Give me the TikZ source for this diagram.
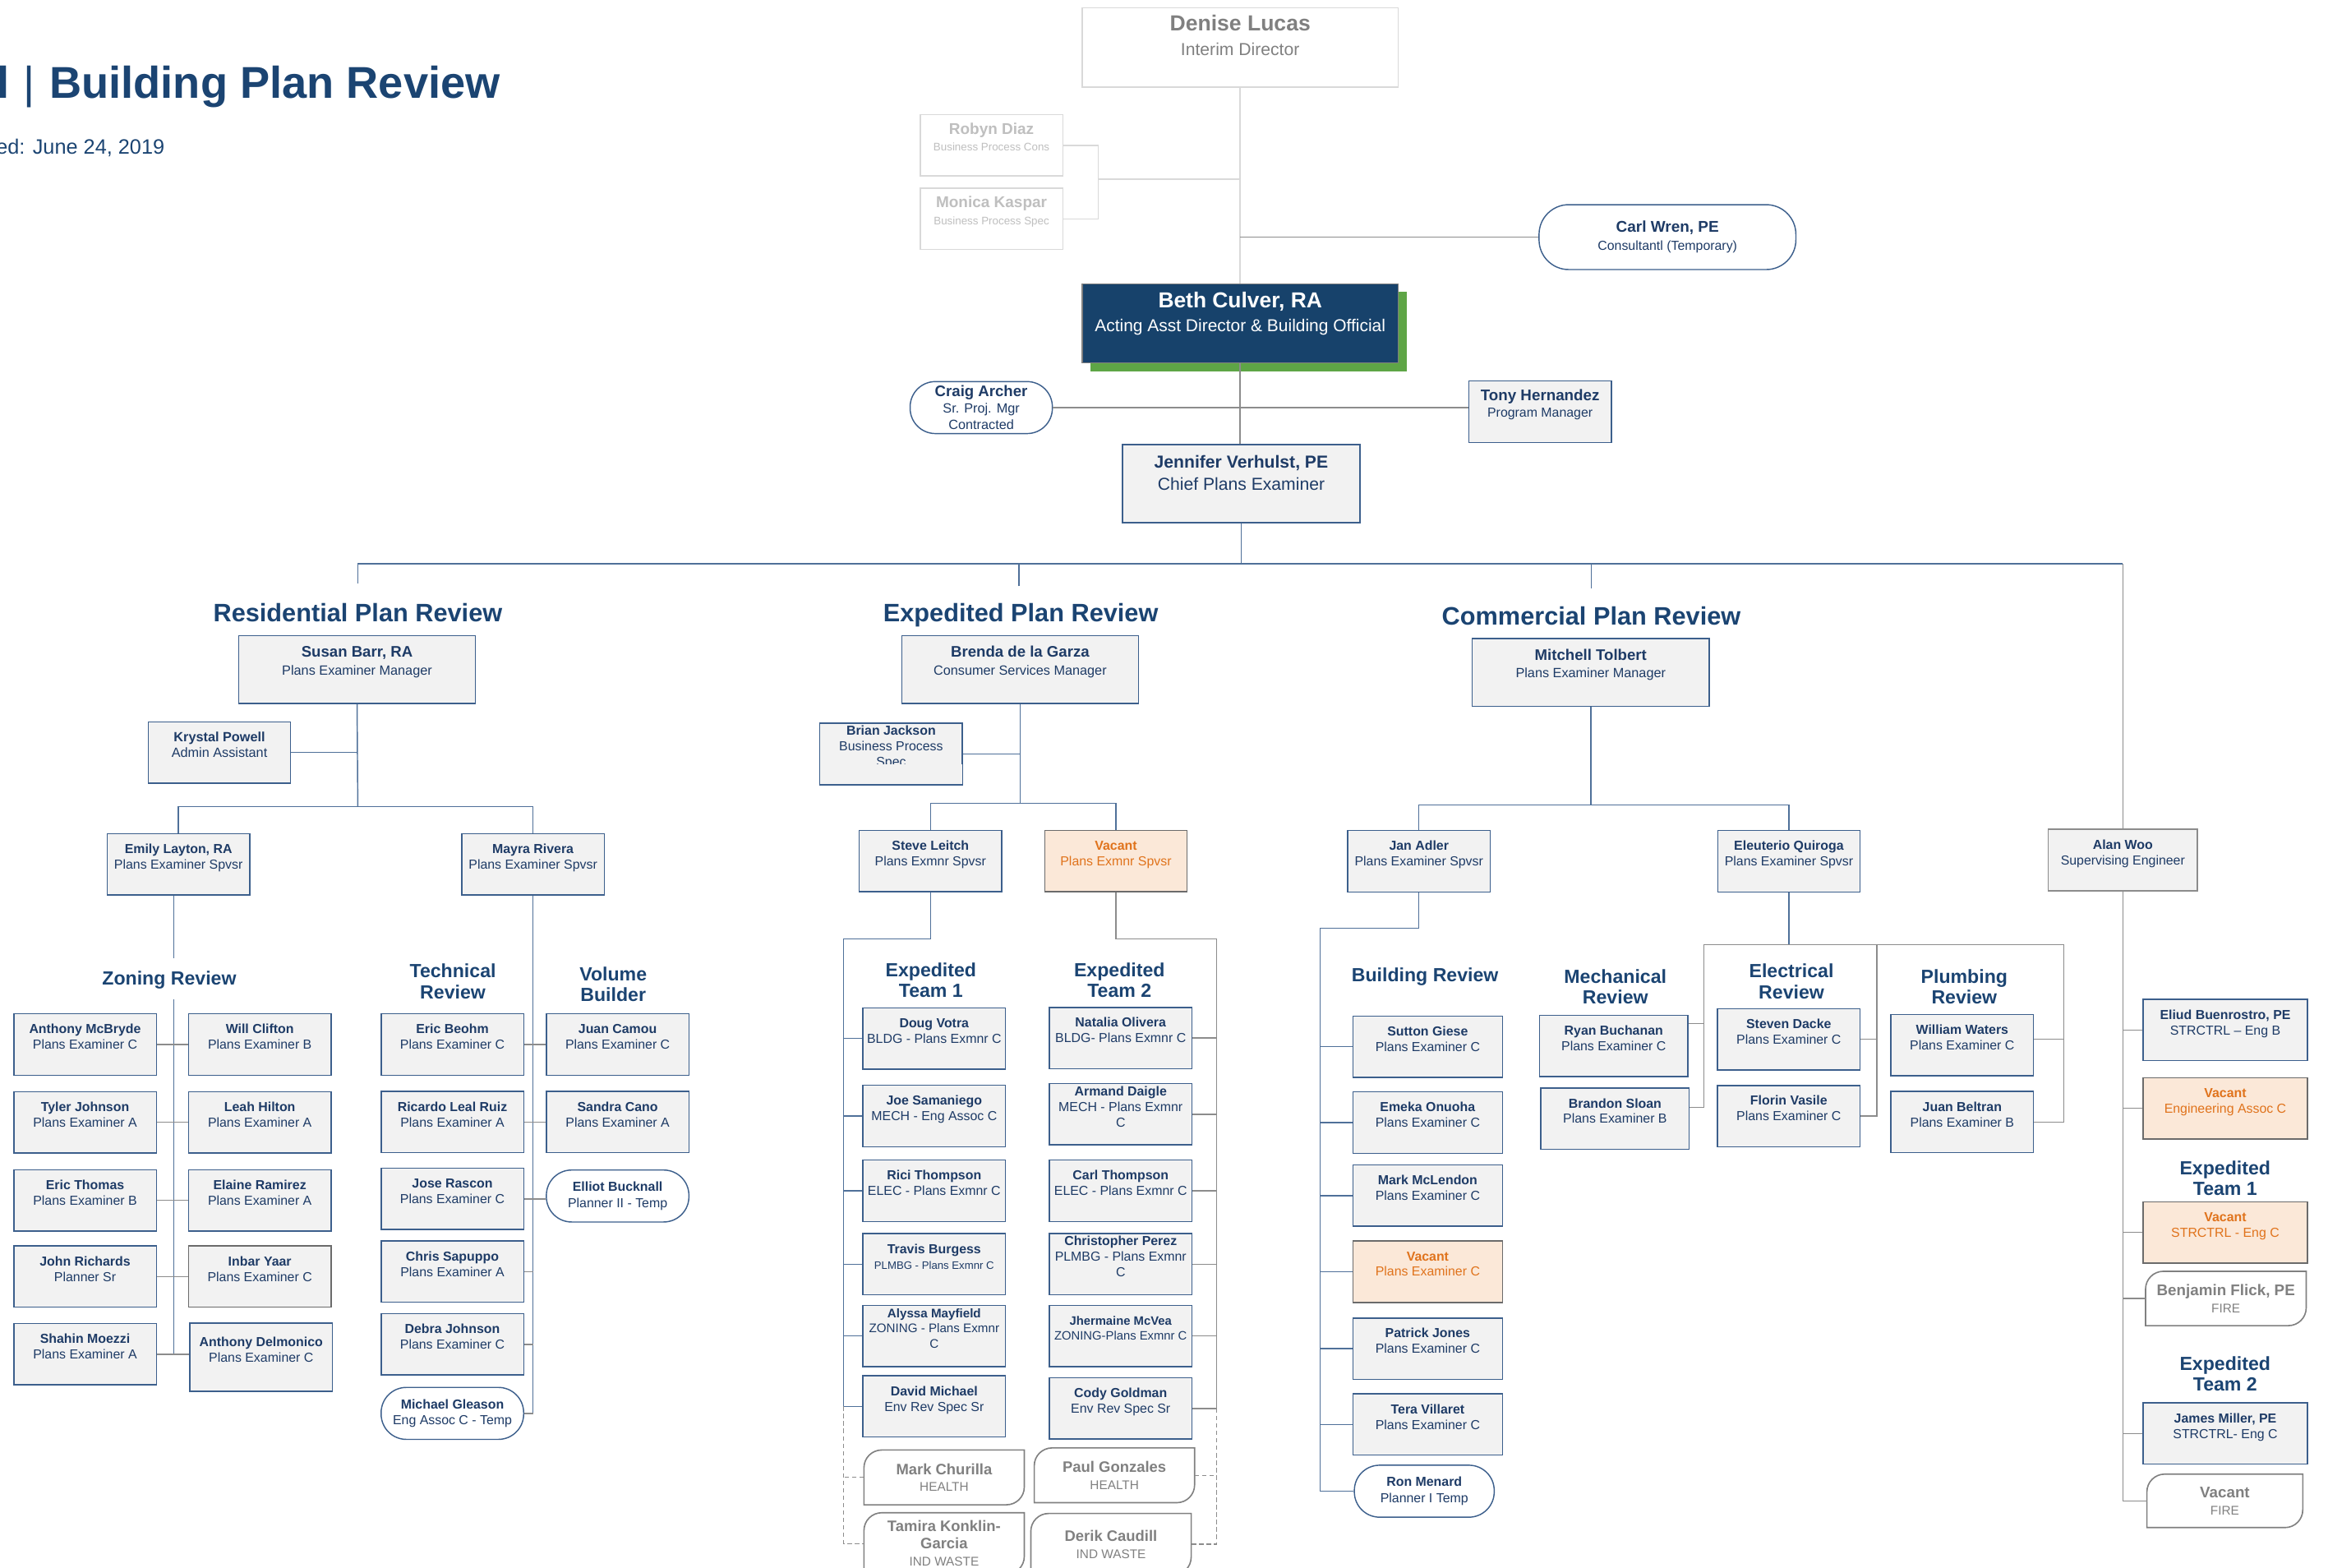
\documentclass[tikz,border=0pt]{standalone}
\usepackage{fontspec}
\setmainfont{Liberation Sans}

\definecolor{headblue}{HTML}{1B4472}
\definecolor{navy}{HTML}{1E3B66}
\definecolor{boxline}{HTML}{3C5F8C}
\definecolor{boxfill}{HTML}{F2F2F2}
\definecolor{connblue}{HTML}{4F7099}
\definecolor{linegray}{HTML}{8C8C8C}
\definecolor{faintline}{HTML}{D9D9D9}
\definecolor{faint}{HTML}{BFBFBF}
\definecolor{ghostgray}{HTML}{808080}
\definecolor{bethblue}{HTML}{17426B}
\definecolor{bethgreen}{HTML}{5EA546}
\definecolor{peach}{HTML}{FBE8D8}
\definecolor{vacorange}{HTML}{E0731C}
\definecolor{vacline}{HTML}{6B6B6B}

\newcommand{\bname}[2]{{\fontsize{#1}{#1}\selectfont\bfseries #2}}
\newcommand{\padline}{\\\mbox{}}

\tikzset{
  conn/.style={draw=connblue, line width=0.8pt},
  conngray/.style={draw=linegray, line width=0.8pt},
  faintconn/.style={draw=faintline, line width=0.8pt},
  ghostconn/.style={draw=linegray, line width=0.7pt, dash pattern=on 3pt off 2pt},
  pbox/.style={draw=boxline, fill=boxfill, line width=0.8pt, minimum width=96pt,
    minimum height=41.3pt, inner sep=0pt, align=center, text=navy,
    font=\fontsize{8.8}{10.5}\selectfont},
  mgrbox/.style={pbox, minimum width=159.5pt, minimum height=45.6pt,
    font=\fontsize{9}{12}\selectfont},
  vacbox/.style={pbox, draw=vacline, fill=peach, text=vacorange},
  tempbox/.style={draw=boxline, fill=white, line width=0.8pt, rounded corners=17pt,
    minimum width=96pt, minimum height=35pt, inner sep=0pt, align=center,
    text=navy, font=\fontsize{8.8}{10.8}\selectfont},
  ghost/.style={fill=white, minimum width=107.6pt, minimum height=36.5pt,
    inner sep=0pt, align=center, text=ghostgray, font=\fontsize{8.5}{11.5}\selectfont},
  ghostframe/.style={draw=ghostgray, line width=0.9pt},
  head/.style={text=headblue, font=\fontsize{17}{20}\selectfont\bfseries},
  team/.style={text=headblue, align=center, font=\fontsize{12.8}{14}\selectfont\bfseries},
}

\begin{document}
\begin{tikzpicture}[x=1pt,y=-1pt]
  \useasboundingbox (0,0) rectangle (1568,1056);
  \clip (0,0) rectangle (1568,1056);

  % title
  \node[anchor=base east, inner sep=0pt, text=headblue, font=\fontsize{30}{36}\selectfont\bfseries]
    (title) at (337,66) {l\hspace{9pt}{\mdseries|}\hspace{10pt}Building Plan Review};
  \node[anchor=base east, inner sep=0pt, text=headblue, font=\fontsize{14}{17}\selectfont]
    (updated) at (111,104) {ed: June 24, 2019};

  % director level
  \node[pbox, draw=faintline, fill=white, text=ghostgray, minimum width=213pt, minimum height=53.4pt,
    font=\fontsize{11.7}{16.4}\selectfont] (denise) at (835.3,32) {\bname{14.7}{Denise Lucas}\\Interim Director\padline};
  \node[pbox, draw=faintline, fill=white, text=faint, font=\fontsize{7.4}{11.2}\selectfont]
    (robyn) at (667.8,97.9) {\bname{10.5}{Robyn Diaz}\\Business Process Cons\padline};
  \node[pbox, draw=faintline, fill=white, text=faint, font=\fontsize{7.4}{11.2}\selectfont]
    (monica) at (667.8,147.4) {\bname{10.5}{Monica Kaspar}\\Business Process Spec\padline};
  \node[tempbox, minimum width=173pt, minimum height=43.7pt, rounded corners=20pt,
    font=\fontsize{8.8}{12}\selectfont] (carl) at (1123.1,159.7) {\bname{10.5}{Carl Wren, PE}\\Consultantl (Temporary)};
  \node[fill=bethgreen, minimum width=213pt, minimum height=53.4pt] (bethshadow) at (840.8,223.3) {};
  \node[pbox, draw=gray, fill=bethblue, text=white, minimum width=213pt, minimum height=53.4pt,
    font=\fontsize{11.6}{15.8}\selectfont] (beth) at (835.3,217.8) {\bname{14.6}{Beth Culver, RA}\\Acting Asst Director \& Building Official\padline};
  \node[tempbox, minimum width=95.8pt, font=\fontsize{9}{11}\selectfont]
    (craig) at (660.9,274.5) {\bname{10.3}{Craig Archer}\\Sr. Proj. Mgr\\Contracted};
  \node[pbox, font=\fontsize{8.8}{11.4}\selectfont] (tony) at (1037.3,277.3) {\bname{10.4}{Tony Hernandez}\\Program Manager\padline};
  \node[pbox, minimum width=160pt, minimum height=52.5pt, font=\fontsize{11.7}{15}\selectfont]
    (jennifer) at (836,325.8) {\textbf{Jennifer Verhulst, PE}\\Chief Plans Examiner\padline};

  % divisions
  \node[head, anchor=base] (reshead) at (241,418.5) {Residential Plan Review};
  \node[head, anchor=base] (exphead) at (687.5,418.5) {Expedited Plan Review};
  \node[head, anchor=base] (comhead) at (1071.8,420.8) {Commercial Plan Review};
  \node[mgrbox] (susan) at (240.5,451) {\bname{10.3}{Susan Barr, RA}\\Plans Examiner Manager\padline};
  \node[mgrbox] (brenda) at (687.1,451) {\bname{10.3}{Brenda de la Garza}\\Consumer Services Manager\padline};
  \node[mgrbox] (mitchell) at (1071.4,452.8) {\bname{10.3}{Mitchell Tolbert}\\Plans Examiner Manager\padline};

  % residential
  \node[pbox, font=\fontsize{9}{10.5}\selectfont] (krystal) at (147.8,506.8) {\textbf{Krystal Powell}\\Admin Assistant\padline};
  \node[pbox] (emily) at (120.2,582.2) {\textbf{Emily Layton, RA}\\Plans Examiner Spvsr\padline};
  \node[pbox] (mayra) at (359,582.2) {\textbf{Mayra Rivera}\\Plans Examiner Spvsr\padline};
  \node[team] (zonhead) at (114,660) {Zoning Review};
  \node[team] (techhead) at (305,661) {Technical\\Review};
  \node[team] (volhead) at (413,663) {Volume\\Builder};
  \node[pbox] (mcbryde) at (57.3,703.5) {\textbf{Anthony McBryde}\\Plans Examiner C\padline};
  \node[pbox] (clifton) at (175,703.5) {\textbf{Will Clifton}\\Plans Examiner B\padline};
  \node[pbox] (tjohnson) at (57.3,755.9) {\textbf{Tyler Johnson}\\Plans Examiner A\padline};
  \node[pbox] (hilton) at (175,755.9) {\textbf{Leah Hilton}\\Plans Examiner A\padline};
  \node[pbox] (ethomas) at (57.3,808.5) {\textbf{Eric Thomas}\\Plans Examiner B\padline};
  \node[pbox] (ramirez) at (175,808.5) {\textbf{Elaine Ramirez}\\Plans Examiner A\padline};
  \node[pbox] (richards) at (57.3,859.8) {\textbf{John Richards}\\Planner Sr\padline};
  \node[pbox, draw=vacline] (yaar) at (175,859.8) {\textbf{Inbar Yaar}\\Plans Examiner C\padline};
  \node[pbox] (moezzi) at (57.3,912) {\textbf{Shahin Moezzi}\\Plans Examiner A\padline};
  \node[pbox, minimum height=46pt] (delmonico) at (175.9,914) {\textbf{Anthony Delmonico}\\Plans Examiner C\padline};
  \node[pbox] (beohm) at (304.7,703.5) {\textbf{Eric Beohm}\\Plans Examiner C\padline};
  \node[pbox] (lealruiz) at (304.7,755.7) {\textbf{Ricardo Leal Ruiz}\\Plans Examiner A\padline};
  \node[pbox] (rascon) at (304.7,807.4) {\textbf{Jose Rascon}\\Plans Examiner C\padline};
  \node[pbox] (sapuppo) at (304.7,856.4) {\textbf{Chris Sapuppo}\\Plans Examiner A\padline};
  \node[pbox] (djohnson) at (304.7,905.4) {\textbf{Debra Johnson}\\Plans Examiner C\padline};
  \node[tempbox] (gleason) at (304.7,951.9) {\textbf{Michael Gleason}\\Eng Assoc C - Temp};
  \node[pbox] (camou) at (416,703.5) {\textbf{Juan Camou}\\Plans Examiner C\padline};
  \node[pbox] (cano) at (416,755.7) {\textbf{Sandra Cano}\\Plans Examiner A\padline};
  \node[tempbox] (bucknall) at (416,805.5) {\textbf{Elliot Bucknall}\\Planner II - Temp};

  % expedited
  \node[pbox] (brian) at (600.2,507.8) {\textbf{Brian Jackson}\\Business Process\\Spec\padline};
  \fill[boxfill] ([xshift=0.6pt,yshift=0.6pt]brian.south west) rectangle ([xshift=-0.6pt,yshift=13.9pt]brian.south east);
  \node[pbox] (steve) at (626.7,579.9) {\textbf{Steve Leitch}\\Plans Exmnr Spvsr\padline};
  \node[vacbox] (vacexp) at (751.6,579.9) {\textbf{Vacant}\\Plans Exmnr Spvsr\padline};
  \node[team] (team1head) at (627,660) {Expedited\\Team 1};
  \node[team] (team2head) at (754,660) {Expedited\\Team 2};
  \node[pbox] (votra) at (629.2,699.4) {\textbf{Doug Votra}\\BLDG - Plans Exmnr C\padline};
  \node[pbox] (samaniego) at (629.2,751.6) {\textbf{Joe Samaniego}\\MECH - Eng Assoc C\padline};
  \node[pbox] (rici) at (629.2,802) {\textbf{Rici Thompson}\\ELEC - Plans Exmnr C\padline};
  \node[pbox] (burgess) at (629.2,851.4) {\textbf{Travis Burgess}\\{\fontsize{7.3}{7.3}\selectfont PLMBG - Plans Exmnr C}\padline};
  \node[pbox, font=\fontsize{8.4}{10.2}\selectfont] (mayfield) at (629.2,899.7) {\textbf{Alyssa Mayfield}\\ZONING - Plans Exmnr\\C\padline};
  \node[pbox] (dmichael) at (629.2,947.2) {\textbf{David Michael}\\Env Rev Spec Sr\padline};
  \node[pbox] (olivera) at (754.8,699.1) {\textbf{Natalia Olivera}\\BLDG- Plans Exmnr C\padline};
  \node[pbox] (daigle) at (754.8,750.4) {\textbf{Armand Daigle}\\MECH - Plans Exmnr\\C\padline};
  \node[pbox] (cthompson) at (754.8,802) {\textbf{Carl Thompson}\\ELEC - Plans Exmnr C\padline};
  \node[pbox] (perez) at (754.8,851.4) {\textbf{Christopher Perez}\\PLMBG - Plans Exmnr\\C\padline};
  \node[pbox, font=\fontsize{8.2}{10}\selectfont] (mcvea) at (754.8,899.7) {\textbf{Jhermaine McVea}\\ZONING-Plans Exmnr C\padline};
  \node[pbox] (goldman) at (754.8,948.6) {\textbf{Cody Goldman}\\Env Rev Spec Sr\padline};
  \node[ghost] (churilla) at (635.9,995) {\bname{10.2}{Mark Churilla}\\HEALTH};
  \node[ghost, minimum height=41pt] (tamira) at (635.9,1039.5) {\bname{10.2}{Tamira Konklin-}\\\bname{10.2}{Garcia}\\IND WASTE};
  \node[ghost] (paul) at (750.6,993.6) {\bname{10.2}{Paul Gonzales}\\HEALTH};
  \node[ghost, minimum height=41pt] (derik) at (748.3,1040) {\bname{10.2}{Derik Caudill}\\IND WASTE};

  % commercial
  \node[pbox] (adler) at (955.7,580) {\textbf{Jan Adler}\\Plans Examiner Spvsr\padline};
  \node[pbox] (quiroga) at (1204.9,580) {\textbf{Eleuterio Quiroga}\\Plans Examiner Spvsr\padline};
  \node[pbox, draw=linegray, minimum width=100.5pt] (alanwoo) at (1429.8,579.2) {\textbf{Alan Woo}\\Supervising Engineer\padline};
  \node[team] (bldhead) at (959.8,657.9) {Building Review};
  \node[team] (mechhead) at (1088,664.4) {Mechanical\\Review};
  \node[team] (elechead) at (1206.6,660.9) {Electrical\\Review};
  \node[team] (plumhead) at (1323,664.7) {Plumbing\\Review};
  \node[pbox, minimum width=100.6pt] (giese) at (961.6,705) {\textbf{Sutton Giese}\\Plans Examiner C\padline};
  \node[pbox, minimum width=100.6pt] (onuoha) at (961.6,756) {\textbf{Emeka Onuoha}\\Plans Examiner C\padline};
  \node[pbox, minimum width=100.6pt] (mclendon) at (961.6,805.2) {\textbf{Mark McLendon}\\Plans Examiner C\padline};
  \node[vacbox, minimum width=100.6pt] (vacbldg) at (961.6,856.5) {\textbf{Vacant}\\Plans Examiner C\padline};
  \node[pbox, minimum width=100.6pt] (pjones) at (961.6,908.3) {\textbf{Patrick Jones}\\Plans Examiner C\padline};
  \node[pbox, minimum width=100.6pt] (villaret) at (961.6,959.3) {\textbf{Tera Villaret}\\Plans Examiner C\padline};
  \node[tempbox, minimum width=94.2pt] (menard) at (959.3,1004.3) {\textbf{Ron Menard}\\Planner I Temp};
  \node[pbox, minimum width=100pt] (buchanan) at (1086.9,704.5) {\textbf{Ryan Buchanan}\\Plans Examiner C\padline};
  \node[pbox, minimum width=100pt] (sloan) at (1087.8,753.4) {\textbf{Brandon Sloan}\\Plans Examiner B\padline};
  \node[pbox] (dacke) at (1204.8,700) {\textbf{Steven Dacke}\\Plans Examiner C\padline};
  \node[pbox] (vasile) at (1204.8,751.7) {\textbf{Florin Vasile}\\Plans Examiner C\padline};
  \node[pbox] (waters) at (1321.6,703.8) {\textbf{William Waters}\\Plans Examiner C\padline};
  \node[pbox] (beltran) at (1321.6,755.7) {\textbf{Juan Beltran}\\Plans Examiner B\padline};
  \node[pbox, minimum width=110.5pt] (buenrostro) at (1498.8,693.7) {\textbf{Eliud Buenrostro, PE}\\STRCTRL -- Eng B\padline};
  \node[vacbox, minimum width=110.5pt] (vaceng) at (1498.8,746.4) {\textbf{Vacant}\\Engineering Assoc C\padline};
  \node[team] (str1head) at (1498.7,793.6) {Expedited\\Team 1};
  \node[vacbox, minimum width=110.5pt] (vacstr) at (1498.8,830) {\textbf{Vacant}\\STRCTRL - Eng C\padline};
  \node[ghost, minimum width=107.8pt, minimum height=36.2pt] (flick) at (1499.2,874.5) {\bname{10.4}{Benjamin Flick, PE}\\FIRE};
  \node[team] (str2head) at (1498.7,925.4) {Expedited\\Team 2};
  \node[pbox, minimum width=110.5pt] (jmiller) at (1498.8,965.5) {\textbf{James Miller, PE}\\STRCTRL- Eng C\padline};
  \node[ghost, minimum width=104.6pt, minimum height=35.6pt] (vacfire) at (1498.5,1010.8) {\bname{10.4}{Vacant}\\FIRE};

  % ghost frames
  \foreach \g in {churilla,tamira,paul,derik,flick,vacfire}
    \draw[ghostframe] (\g.south west) -- ([yshift=-12pt]\g.north west) to[out=90,in=180]
      ([xshift=12pt]\g.north west) -- (\g.north east) -- ([yshift=12pt]\g.south east)
      to[out=-90,in=0] ([xshift=-12pt]\g.south east) -- cycle;

  % director connectors
  \coordinate (bizjoin) at (739.7,120.6);
  \draw[faintconn] (denise.south) -- (beth.north);
  \draw[faintconn] (robyn.east) -| (bizjoin) |- (monica.east);
  \draw[faintconn] (bizjoin) -- (bizjoin -| denise.south);
  \draw[conngray] (carl.west) -- (carl.west -| denise.south);
  \draw[conngray] (beth.south) -- (beth.south |- jennifer.north);
  \draw[conngray] (craig.east) -- (craig.east -| tony.west);

  % division bus
  \coordinate (bus) at (836,379.7);
  \coordinate (resdrop) at (241,393);
  \coordinate (expdrop) at (686.4,394.8);
  \coordinate (comdrop) at (1071.8,396.3);
  \draw[conn] (jennifer.south) -- (bus);
  \draw[conn] (resdrop) |- (bus) -- (bus -| alanwoo.north);
  \draw[conngray] (bus -| alanwoo.north) -- (alanwoo.north);
  \draw[conn] (expdrop) -- (expdrop |- bus);
  \draw[conn] (comdrop) -- (comdrop |- bus);

  % residential connectors
  \coordinate (resbus) at (241,543.3);
  \coordinate (zoneup) at (117.2,645.5);
  \coordinate (zonespine) at (117.2,673);
  \draw[conn] (susan.south) -- (resbus);
  \draw[conn] (krystal.east) -- (krystal.east -| resbus);
  \draw[conn] (emily.north) |- (resbus) -| (mayra.north);
  \draw[conn] (zoneup |- emily.south) -- (zoneup);
  \draw[conn] (zonespine) -- (zonespine |- moezzi.east);
  \foreach \l/\r in {mcbryde/clifton, tjohnson/hilton, ethomas/ramirez, richards/yaar, moezzi/delmonico}
    \draw[conngray] (\l.east) -- (\l.east -| \r.west);
  \draw[conn] (mayra.south) -- (mayra.south |- gleason.east);
  \foreach \l/\r in {beohm/camou, lealruiz/cano, rascon/bucknall}
    \draw[conngray] (\l.east) -- (\l.east -| \r.west);
  \foreach \n in {sapuppo, djohnson, gleason}
    \draw[conngray] (\n.east) -- (\n.east -| mayra.south);

  % expedited connectors
  \coordinate (expbus) at (687.1,541);
  \coordinate (t1top) at (568.1,632.2);
  \coordinate (t2top) at (819.3,632.2);
  \draw[conn] (brenda.south) -- (expbus);
  \draw[conn] (brian.east) -- (brian.east -| expbus);
  \draw[conn] (steve.north) |- (expbus) -| (vacexp.north);
  \draw[conn] (steve.south) |- (t1top) -- (t1top |- dmichael.west);
  \foreach \n in {votra, samaniego, rici, burgess, mayfield, dmichael}
    \draw[conn] (\n.west) -- (\n.west -| t1top);
  \draw[conngray] (vacexp.south) |- (t2top) -- (t2top |- goldman.east);
  \foreach \n in {olivera, daigle, cthompson, perez, mcvea, goldman}
    \draw[conngray] (\n.east) -- (\n.east -| t2top);
  \draw[ghostconn] (t1top |- dmichael.west) |- (tamira.west);
  \draw[ghostconn] (churilla.west) -- (churilla.west -| t1top);
  \draw[ghostconn] (t2top |- goldman.east) |- (derik.east);
  \draw[ghostconn] (paul.east) -- (paul.east -| t2top);

  % commercial connectors
  \coordinate (combus) at (1071.8,542);
  \coordinate (bldtop) at (889.1,625.1);
  \coordinate (mechtop) at (1147.7,636.2);
  \coordinate (electop) at (1264.1,636.2);
  \coordinate (plumtop) at (1390,636.2);
  \draw[conn] (mitchell.south) -- (mitchell.south |- combus);
  \draw[conn] (adler.north) |- (combus) -| (quiroga.north);
  \draw[conn] (adler.south) |- (bldtop) -- (bldtop |- menard.west);
  \foreach \n in {giese, onuoha, mclendon, vacbldg, pjones, villaret, menard}
    \draw[conn] (\n.west) -- (\n.west -| bldtop);
  \draw[conn] (quiroga.south) -- (quiroga.south |- mechtop);
  \draw[conngray] (mechtop) -- (plumtop);
  \draw[conngray] ([yshift=15pt]buchanan.east) -| (mechtop);
  \draw[conngray] ([yshift=7.7pt]sloan.east) -| (mechtop);
  \draw[conngray] (dacke.east) -| (electop);
  \draw[conngray] (vasile.east) -| (electop);
  \draw[conngray] ([yshift=4pt]waters.east) -| (plumtop);
  \draw[conngray] (beltran.east) -| (plumtop);
  \draw[conngray] (alanwoo.south) |- (vacfire.west);
  \foreach \n in {buenrostro, vaceng, vacstr, flick, jmiller}
    \draw[conngray] (\n.west) -| (alanwoo.south);
\end{tikzpicture}
\end{document}
